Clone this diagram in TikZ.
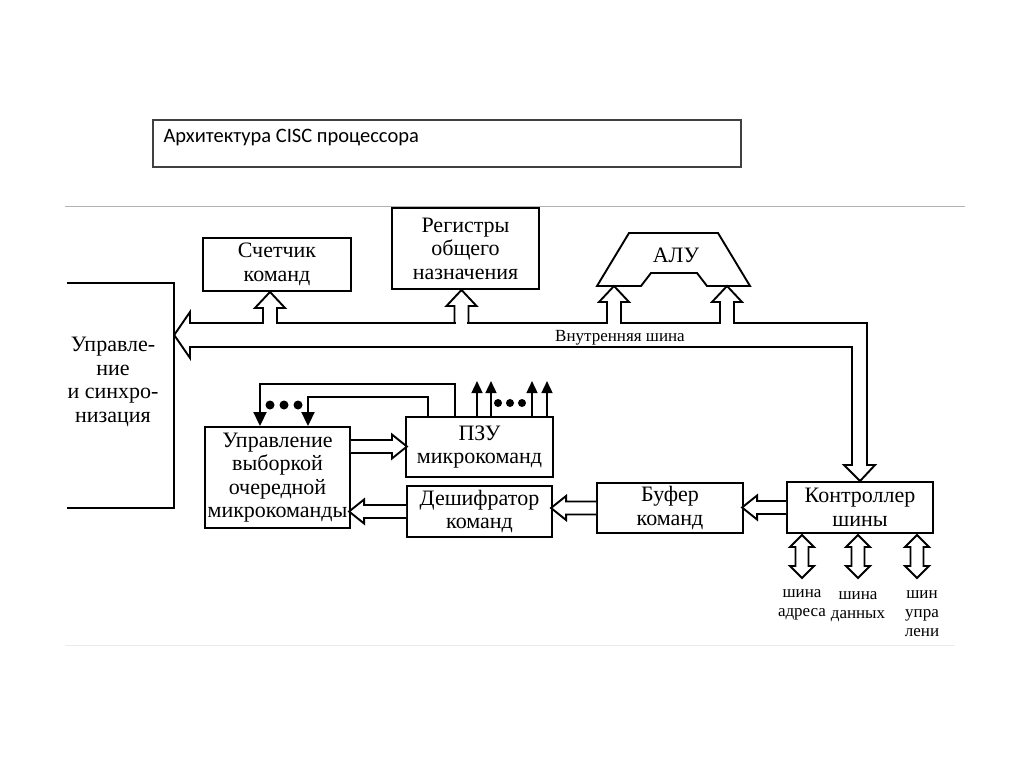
\documentclass[tikz,border=0pt]{standalone}
\usepackage{fontspec}
\setmainfont{Liberation Serif}
\newfontfamily\titlefont{Carlito}
\usetikzlibrary{arrows.meta, calc, positioning}

\tikzset{
	blk/.style={draw, line width=1.9pt, inner sep=0pt, align=center},
	bus/.style={draw, line width=1.9pt, fill=white, line join=miter},
	sig/.style={line width=1.9pt, -{Triangle[width=13pt,length=14pt]}},
	outsig/.style={line width=1.6pt, -{Triangle[width=11pt,length=12pt]}},
	pics/busup/.style={code={
		\fill[white] (-5.8,#1-3) rectangle (5.8,#1+3);
		\draw[bus, fill=none] (-7,#1) -- (-7,16) -- (-15,16) -- (0,0) -- (15,16) -- (7,16) -- (7,#1);
	}},
	pics/busarrow/.style={code={
		\draw[bus] (0,-6.5) -- (#1-15,-6.5) -- (#1-15,-12) -- (#1,0) -- (#1-15,12) -- (#1-15,6.5) -- (0,6.5);
	}},
	pics/busboth/.style={code={
		\draw[bus] (0,0) -- (12,12) -- (6.5,12) -- (6.5,#1-12) -- (12,#1-12) -- (0,#1) -- (-12,#1-12) -- (-6.5,#1-12) -- (-6.5,12) -- (-12,12) -- cycle;
	}},
}

\begin{document}
\begin{tikzpicture}[x=1pt, y=-1pt, font=\fontsize{22}{23.5}\selectfont]

\fill[white] (0,0) rectangle (1024,767);
\useasboundingbox (0,0) rectangle (1024,767);

\node[draw=black!75, line width=1.2pt, minimum width=588pt, minimum height=47pt] (title) at (447,143.5) {};
\node[anchor=west, font=\titlefont\fontsize{20.5}{22}\selectfont] (title-txt) at (160,138) {Архитектура CISC процессора};

\draw[black!30, line width=1pt] (65,207) -- (965,207);
\draw[black!8, line width=1pt] (65,645) -- (955,645);

\begin{scope}[every node/.style={blk}]
	\node[minimum width=148pt, minimum height=53pt] (pc) at (277,264.5) {Счетчик\\команд};
	\node[minimum width=147pt, minimum height=81pt] (gpr) at (465.5,248.5) {Регистры\\общего\\назначения};
	\node[minimum width=145pt, minimum height=101pt] (seq) at (277.5,477.5) {Управление\\выборкой\\очередной\\микрокоманды};
	\node[minimum width=147pt, minimum height=60pt] (rom) at (479.5,447) {ПЗУ\\микрокоманд};
	\node[minimum width=145pt, minimum height=51pt] (dec) at (479.5,511.5) {Дешифратор\\команд};
	\node[minimum width=146pt, minimum height=50pt] (ibuf) at (670,508) {Буфер\\команд};
	\node[minimum width=146pt, minimum height=51pt] (bic) at (860,507.5) {Контроллер\\шины};
\end{scope}

\node[minimum width=107pt, minimum height=225pt, inner sep=0pt] (ctl) at (120.5,395.5) {};
\draw[line width=1.9pt] (ctl.north west) -| (ctl.south east) -- (ctl.south west);
\node[align=center] (ctl-txt) at (113,382) {Управле-\\ние\\и синхро-\\низация};

\node (alu) at (676,255) {АЛУ};
\draw[line width=1.9pt, line join=miter] (629,233) -- (718,233) -- (750,286) -- (707,286) -- (697,273) -- (651,273) -- (641,286) -- (597,286) -- cycle;
\coordinate (alu-a) at (614,286);
\coordinate (alu-b) at (727,286);

\coordinate (ctl-in) at ($(ctl.east)+(0,-60.5)$);
\draw[bus] (ctl-in) -- (190,312) -- (190,323) -- (867,323) -- (867,465) -- (875,465) -- (bic.north) -- (844,465) -- (852,465) -- (852,347) -- (190,347) -- (190,358) -- cycle;
\node[font=\fontsize{17}{19}\selectfont] (bus-lbl) at (620,338) {Внутренняя шина};

\pic at ($(pc.south)+(-7,0)$) {busup=32};
\pic at ($(gpr.south)+(-4,0)$) {busup=34};
\pic at (alu-a) {busup=37};
\pic at (alu-b) {busup=37};

\pic at ($(seq.east)+(0,-31)$) {busarrow=56};
\pic[rotate=180] at (dec.west) {busarrow=57};
\pic[rotate=180] at (ibuf.west) {busarrow=45};
\pic[rotate=180] at (bic.west) {busarrow=44};

\draw[sig] ($(rom.north)+(-24.5,0)$) -- ++(0,-32) -| ($(seq.north)+(-17.5,0)$);
\draw[sig] ($(rom.north)+(-51.5,0)$) -- ++(0,-19) -| ($(seq.north)+(30.5,0)$);
\foreach \x in {270,284,298}
	\fill (\x,405) circle[radius=4.5pt];

\foreach \dx in {-2.5,11.5,52.5,67.5}
	\draw[outsig] ($(rom.north)+(\dx,0)$) -- ++(0,-35);
\foreach \x in {498,510,522}
	\fill (\x,403) circle[radius=4pt];

\foreach \dx in {-58,-2,57}
	\pic at ($(bic.south)+(\dx,1)$) {busboth=43};

\begin{scope}[font=\fontsize{17}{19}\selectfont, align=center]
	\node (adr-lbl) at (802,605) {шина\\адреса};
	\node (dat-lbl) at (858,607) {шина\\данных};
	\node (ctr-lbl) at (922,614) {шин\\упра\\лени};
\end{scope}

\end{tikzpicture}
\end{document}
